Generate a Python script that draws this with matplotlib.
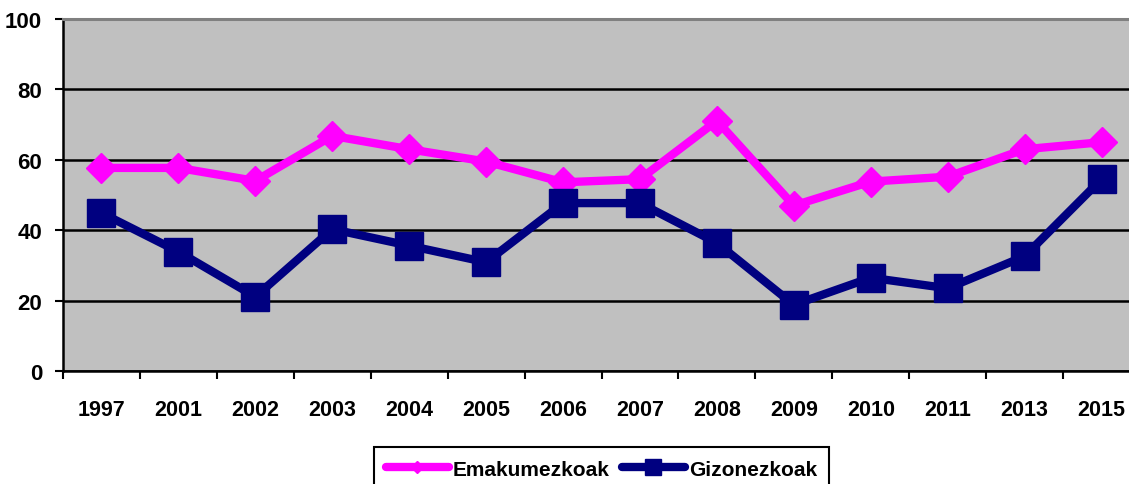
import numpy as np
import matplotlib
matplotlib.use('Agg')
import matplotlib.pyplot as plt
from matplotlib.lines import Line2D
from matplotlib.ticker import FixedLocator, NullFormatter

plt.rcParams['font.family'] = ['Liberation Sans', 'DejaVu Sans']
plt.rcParams['font.weight'] = 'bold'

years = ['1997', '2001', '2002', '2003', '2004', '2005', '2006',
         '2007', '2008', '2009', '2010', '2011', '2013', '2015']
emakumezkoak = [57.7, 57.7, 54.0, 66.8, 63.0, 59.5, 53.6,
                54.5, 71.1, 47.0, 53.8, 55.2, 63.0, 65.0]
gizonezkoak = [44.9, 33.9, 21.1, 40.3, 35.6, 30.9, 47.7,
               47.7, 36.4, 18.8, 26.5, 23.5, 32.6, 54.5]

PINK, NAVY = '#FF00FF', '#000080'

W, H = 1129, 485
fig = plt.figure(figsize=(W / 100, H / 100), dpi=100)
# plot area runs a little past the right edge of the picture, as in the original
ax = fig.add_axes([63 / W, (H - 372) / H, (1140 - 63) / W, (372 - 20) / H])
ax.set_facecolor('#C0C0C0')

x = np.arange(len(years)) + 0.5
ax.plot(x, emakumezkoak, color=PINK, lw=6, marker='D', ms=15.5,
        mfc=PINK, mec=PINK, zorder=3)
ax.plot(x, gizonezkoak, color=NAVY, lw=6, marker='s', ms=20,
        mfc=NAVY, mec=NAVY, zorder=4)

ax.set_xlim(0, len(years))
ax.set_ylim(0, 100)
ax.set_yticks([0, 20, 40, 60, 80, 100])
ax.yaxis.grid(True, color='black', lw=1.8)
ax.set_axisbelow(True)

# ticks sit between categories, labels at category centres
ax.xaxis.set_major_locator(FixedLocator(np.arange(len(years) + 1)))
ax.xaxis.set_major_formatter(NullFormatter())
ax.xaxis.set_minor_locator(FixedLocator(x))
ax.set_xticklabels(years, minor=True)
ax.tick_params(axis='x', which='major', length=6, width=1.5, direction='out')
ax.tick_params(axis='x', which='minor', length=0, pad=20, labelsize=15.5)
ax.tick_params(axis='y', length=6, width=1.5, pad=9, labelsize=16)

for side in ['left', 'bottom']:
    ax.spines[side].set_color('black')
    ax.spines[side].set_linewidth(1.8)
ax.spines['top'].set_color('#808080')
ax.spines['top'].set_linewidth(2.2)
ax.spines['right'].set_visible(False)

handles = [
    Line2D([], [], color=PINK, lw=6, marker='D', ms=6, solid_capstyle='round'),
    Line2D([], [], color=NAVY, lw=6, marker='s', ms=12, solid_capstyle='round'),
]
leg = fig.legend(handles, ['Emakumezkoak', 'Gizonezkoak'], loc='upper center',
                 bbox_to_anchor=(601.5 / W, 1 - 448 / H), ncol=2,
                 fontsize=15, frameon=True, fancybox=False, framealpha=1,
                 edgecolor='black', handlelength=3.0, handletextpad=0.2,
                 columnspacing=0.6, borderpad=0.6, borderaxespad=0)
leg.get_frame().set_linewidth(1.5)

fig.savefig('out.png', dpi=100)
